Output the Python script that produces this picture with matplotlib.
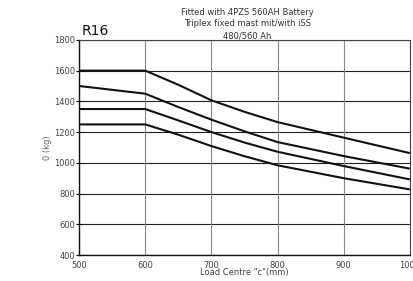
import matplotlib
matplotlib.use("Agg")
import matplotlib.pyplot as plt

load_centre = [500, 600, 650, 700, 750, 800, 900, 1000]
curve1 = [1600, 1600, 1508, 1407, 1332, 1265, 1164, 1063]
curve2 = [1500, 1450, 1363, 1281, 1205, 1135, 1044, 962]
curve3 = [1350, 1350, 1276, 1200, 1132, 1072, 979, 892]
curve4 = [1250, 1250, 1183, 1109, 1043, 984, 900, 827]
x_ticks = [500, 600, 700, 800, 900, 1000]
y_ticks = [400, 600, 800, 1000, 1200, 1400, 1600, 1800]

fig = plt.figure(figsize=(4.14, 2.81), dpi=100)
ax = fig.add_axes([0.191, 0.0925, 0.799, 0.7655])

for c in (curve1, curve2, curve3, curve4):
    ax.plot(load_centre, c, color="#111111", lw=1.5, solid_capstyle="butt")

ax.set_xlim(500, 1000)
ax.set_ylim(400, 1800)
ax.set_xticks(x_ticks)
ax.set_yticks(y_ticks)
ax.set_xticklabels([str(v) for v in x_ticks], fontsize=6, color="#444444")
ax.set_yticklabels([str(v) for v in y_ticks], fontsize=6, color="#444444")
ax.tick_params(axis="y", direction="inout", length=4, width=0.8, pad=1)
ax.tick_params(axis="x", length=0, pad=4)

for v in y_ticks:
    ax.axhline(v, color="#222222", lw=0.8, zorder=0)
for v in x_ticks:
    ax.axvline(v, color="#888888", lw=0.8, zorder=0)

for s in ("left", "bottom"):
    ax.spines[s].set_color("#111111")
    ax.spines[s].set_linewidth(1.0)
for s in ("top", "right"):
    ax.spines[s].set_color("#444444")
    ax.spines[s].set_linewidth(0.8)

ax.set_xlabel('Load Centre "c"(mm)', fontsize=6, color="#444444", labelpad=-1)
ax.set_ylabel("0 (kg)", fontsize=6, color="#666666", labelpad=1)

fig.text(0.597, 0.957, "Fitted with 4PZS 560AH Battery", ha="center", va="center", fontsize=6, color="#333333")
fig.text(0.597, 0.915, "Triplex fixed mast mit/with iSS", ha="center", va="center", fontsize=6, color="#333333")
fig.text(0.597, 0.872, "480/560 Ah", ha="center", va="center", fontsize=6, color="#333333")
fig.text(0.197, 0.888, "R16", ha="left", va="center", fontsize=10, color="#111111")
ax.text(1003, 830, "8", fontsize=6, color="#444444", va="center", clip_on=False)

fig.savefig("out.png", dpi=100)
